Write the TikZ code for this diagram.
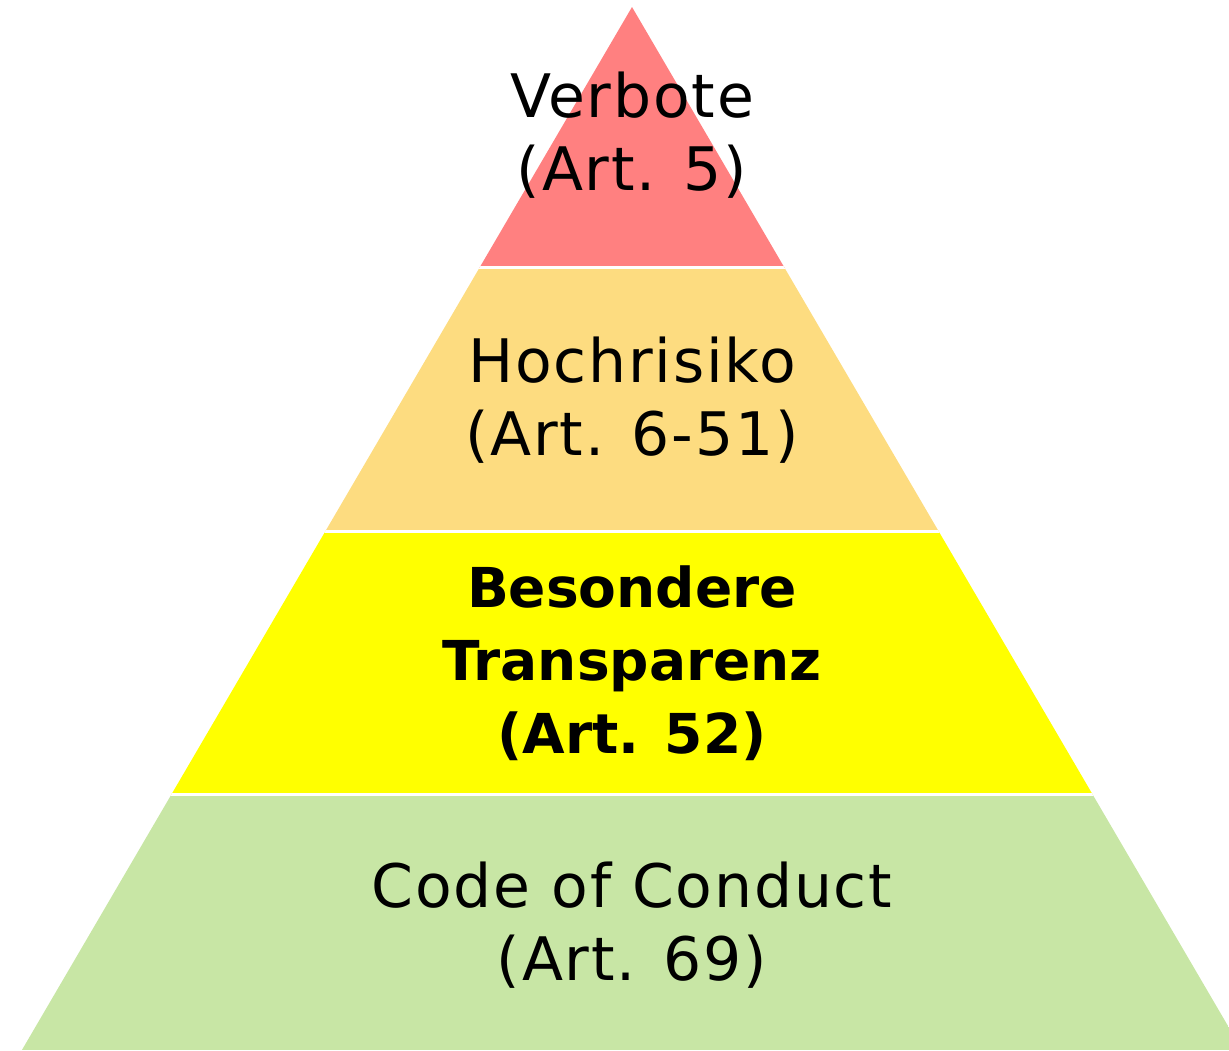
\documentclass[tikz,border=0pt]{standalone}
\usepackage{fontspec}
\setmainfont{DejaVu Sans}
\newfontfamily\regfont{DejaVu Sans}[LetterSpace=3]
\definecolor{cred}{HTML}{FF8080}
\definecolor{corange}{HTML}{FDDC80}
\definecolor{cyellow}{HTML}{FFFF00}
\definecolor{cgreen}{HTML}{C8E6A5}
\begin{document}
\begin{tikzpicture}[x=1pt,y=-1pt,
  lbl/.style={align=center,inner sep=0pt,anchor=base,font=\regfont\fontsize{60}{73}\selectfont,text=black},
  boldlbl/.style={lbl,font=\normalfont\fontsize{55}{73}\selectfont\bfseries},
  sep/.style={draw=white,line width=3pt}]
\useasboundingbox (0,0) rectangle (1229,1050);
\begin{scope}
  \clip (632,7) -- (1245,1055) -- (19,1055) -- cycle;
  \fill[cred] (0,0) rectangle (1229,267.5);
  \fill[corange] (0,267.5) rectangle (1229,531);
  \fill[cyellow] (0,531) rectangle (1229,794.5);
  \fill[cgreen] (0,794.5) rectangle (1229,1050);
  \draw[sep] (0,267.5) -- (1229,267.5);
  \draw[sep] (0,531) -- (1229,531);
  \draw[sep] (0,794.5) -- (1229,794.5);
\end{scope}
\node[lbl] (l1) at (632,190) {Verbote\\(Art. 5)};
\node[lbl] (l2) at (632,455) {Hochrisiko\\(Art. 6-51)};
\node[boldlbl] (l3) at (632,753) {Besondere\\Transparenz\\(Art. 52)};
\node[lbl] (l4) at (632,980) {Code of Conduct\\(Art. 69)};
\end{tikzpicture}
\end{document}
